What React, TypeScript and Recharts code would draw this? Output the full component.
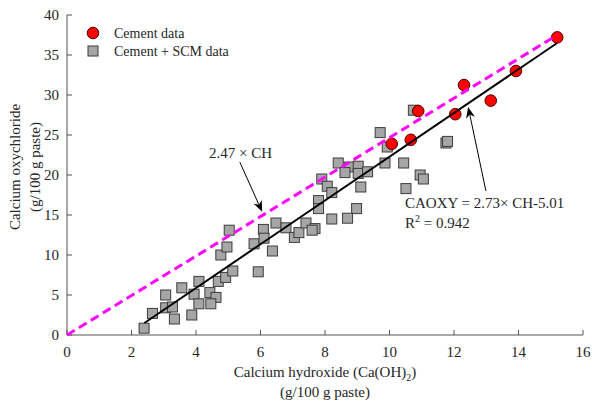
import { ScatterChart, Scatter, XAxis, YAxis, ReferenceLine } from 'recharts'

// Cement + SCM pastes
const scmCH = [2.39, 2.65, 3.06, 3.06, 3.27, 3.33, 3.56, 3.87, 3.94, 4.09, 4.09, 4.43, 4.62, 4.46, 4.69, 4.92, 5.14, 4.77, 4.96, 5.8, 5.93, 5.03, 6.09, 6.11, 6.37, 6.48, 6.79, 7.05, 7.19, 7.41, 7.69, 7.6, 9.93, 8.41, 8.75, 9.03, 8.62, 9.03, 9.32, 9.86, 10.44, 7.9, 8.07, 8.21, 9.11, 7.8, 7.8, 8.98, 8.7, 8.21, 10.51, 10.95, 11.05, 10.74, 9.71, 11.75, 11.8]
const scmCAOXY = [0.85, 2.7, 5.0, 3.4, 3.5, 2.0, 5.9, 2.5, 5.1, 6.7, 3.9, 5.3, 4.7, 3.9, 6.7, 7.2, 8.0, 10.0, 11.0, 11.4, 7.9, 13.1, 13.2, 12.1, 10.5, 14.0, 13.4, 12.2, 12.8, 14.0, 13.3, 13.1, 23.5, 21.5, 21.0, 21.1, 20.3, 20.2, 20.4, 21.5, 21.5, 19.5, 18.6, 17.8, 18.5, 16.8, 15.8, 15.8, 14.6, 14.5, 18.3, 20.0, 19.5, 28.1, 25.3, 24.0, 24.2]

// plain cement pastes
const cemCH = [10.07, 10.66, 10.89, 12.04, 12.31, 13.14, 13.92, 15.2]
const cemCAOXY = [23.9, 24.4, 28.0, 27.6, 31.25, 29.3, 33.0, 37.2]

// fitted line and 2.47 x CH line end points
const fitCH = [2.4, 15.2]
const fitCAOXY = [1.5, 36.5]
const ratioCH = [0, 15.2]
const ratioCAOXY = [0, 37.5]

const xTicks = [0, 2, 4, 6, 8, 10, 12, 14, 16]
const yTicks = [0, 5, 10, 15, 20, 25, 30, 35, 40]

const FONT = '"Liberation Serif", "Times New Roman", serif'
const AXIS = '#555'
const TXT = '#262626'

const pts = (xs: number[], ys: number[]) => xs.map((x, i) => ({ x, y: ys[i] }))

const Square = (p: any) => (
    <rect x={p.cx - 5} y={p.cy - 5} width={10} height={10} fill="#a6a6a6" stroke="#3c3c3c" strokeWidth={1} />
)
const Dot = (p: any) => <circle cx={p.cx} cy={p.cy} r={5.8} fill="#ff0000" stroke="#4a0000" strokeWidth={1} />
const Nothing = () => <g />

const Arrow = (p: any) => {
    const { x1, y1, x2, y2 } = p
    const a = Math.atan2(y2 - y1, x2 - x1)
    const L = 11
    const W = 4.5
    const bx = x2 - L * Math.cos(a)
    const by = y2 - L * Math.sin(a)
    const nx = x2 - L * 0.7 * Math.cos(a)
    const ny = y2 - L * 0.7 * Math.sin(a)
    const px = -Math.sin(a) * W
    const py = Math.cos(a) * W
    return (
        <g>
            <line x1={x1} y1={y1} x2={nx} y2={ny} stroke="#000" strokeWidth={1} />
            <polygon points={`${x2},${y2} ${bx + px},${by + py} ${nx},${ny} ${bx - px},${by - py}`} fill="#000" />
        </g>
    )
}

export default function App() {
    const tickStyle = { fontFamily: FONT, fontSize: 15, fill: TXT }
    return (
        <div style={{ position: 'absolute', left: 0, top: 0, width: 592, height: 405, background: '#fff' }}>
            <ScatterChart width={592} height={405} margin={{ top: 15, right: 9, bottom: 0, left: 0 }}>
                <XAxis
                    xAxisId="b"
                    type="number"
                    dataKey="x"
                    domain={[0, 16]}
                    ticks={xTicks}
                    height={70}
                    tickSize={-5}
                    tickMargin={16}
                    stroke={AXIS}
                    tick={tickStyle}
                    fontSize={15}
                    interval={0}
                />
                <XAxis xAxisId="t" orientation="top" type="number" dataKey="x" domain={[0, 16]} ticks={xTicks} height={0} tickSize={-5} stroke={AXIS} tick={Nothing} interval={0} />
                <YAxis
                    yAxisId="l"
                    type="number"
                    dataKey="y"
                    domain={[0, 40]}
                    ticks={yTicks}
                    width={67}
                    tickSize={-5}
                    tickMargin={13}
                    stroke={AXIS}
                    tick={tickStyle}
                    fontSize={15}
                    interval={0}
                />
                <YAxis yAxisId="r" orientation="right" type="number" dataKey="y" domain={[0, 40]} ticks={yTicks} width={0} tickSize={-5} stroke={AXIS} tick={Nothing} interval={0} />

                <Scatter xAxisId="b" yAxisId="l" data={pts(scmCH, scmCAOXY)} shape={Square} isAnimationActive={false} />
                <Scatter xAxisId="b" yAxisId="l" data={pts(cemCH, cemCAOXY)} shape={Dot} isAnimationActive={false} />
                <Scatter
                    xAxisId="t"
                    yAxisId="r"
                    data={pts(ratioCH, ratioCAOXY)}
                    shape={Nothing}
                    line={{ stroke: '#ff00ff', strokeWidth: 3, strokeDasharray: '9 5' }}
                    isAnimationActive={false}
                />
                <Scatter
                    xAxisId="t"
                    yAxisId="r"
                    data={pts(fitCH, fitCAOXY)}
                    shape={Nothing}
                    line={{ stroke: '#000', strokeWidth: 2 }}
                    isAnimationActive={false}
                />
                <ReferenceLine xAxisId="b" yAxisId="l" segment={[{ x: 5.36, y: 21.6 }, { x: 6.05, y: 15.4 }]} shape={Arrow} />
                <ReferenceLine xAxisId="b" yAxisId="l" segment={[{ x: 12.99, y: 18.0 }, { x: 12.44, y: 28.5 }]} shape={Arrow} />
            </ScatterChart>

            <svg width={592} height={405} style={{ position: 'absolute', left: 0, top: 0, pointerEvents: 'none' }} fontFamily={FONT} fill={TXT}>
                <circle cx={93} cy={33} r={5.8} fill="#ff0000" stroke="#4a0000" />
                <text x={114} y={38} fontSize={14}>Cement data</text>
                <rect x={88} y={46} width={10} height={10} fill="#a6a6a6" stroke="#3c3c3c" />
                <text x={114} y={56} fontSize={14}>Cement + SCM data</text>

                <text x={209} y={158} fontSize={15}>2.47 × CH</text>
                <text x={405} y={208} fontSize={15}>CAOXY = 2.73× CH-5.01</text>
                <text x={405} y={228} fontSize={15}>
                    R<tspan fontSize={10} dy={-6}>2</tspan>
                    <tspan dy={6}> = 0.942</tspan>
                </text>

                <text x={325} y={377} fontSize={15} textAnchor="middle">
                    Calcium hydroxide (Ca(OH)<tspan fontSize={10} dy={4}>2</tspan>
                    <tspan dy={-4}>)</tspan>
                </text>
                <text x={325} y={397} fontSize={15} textAnchor="middle">(g/100 g paste)</text>

                <text x={15} y={167} fontSize={15} textAnchor="middle" dominantBaseline="central" transform="rotate(-90 15 167)">
                    Calcium oxychloride
                </text>
                <text x={35} y={167} fontSize={15} textAnchor="middle" dominantBaseline="central" transform="rotate(-90 35 167)">
                    (g/100 g paste)
                </text>
            </svg>
        </div>
    )
}
